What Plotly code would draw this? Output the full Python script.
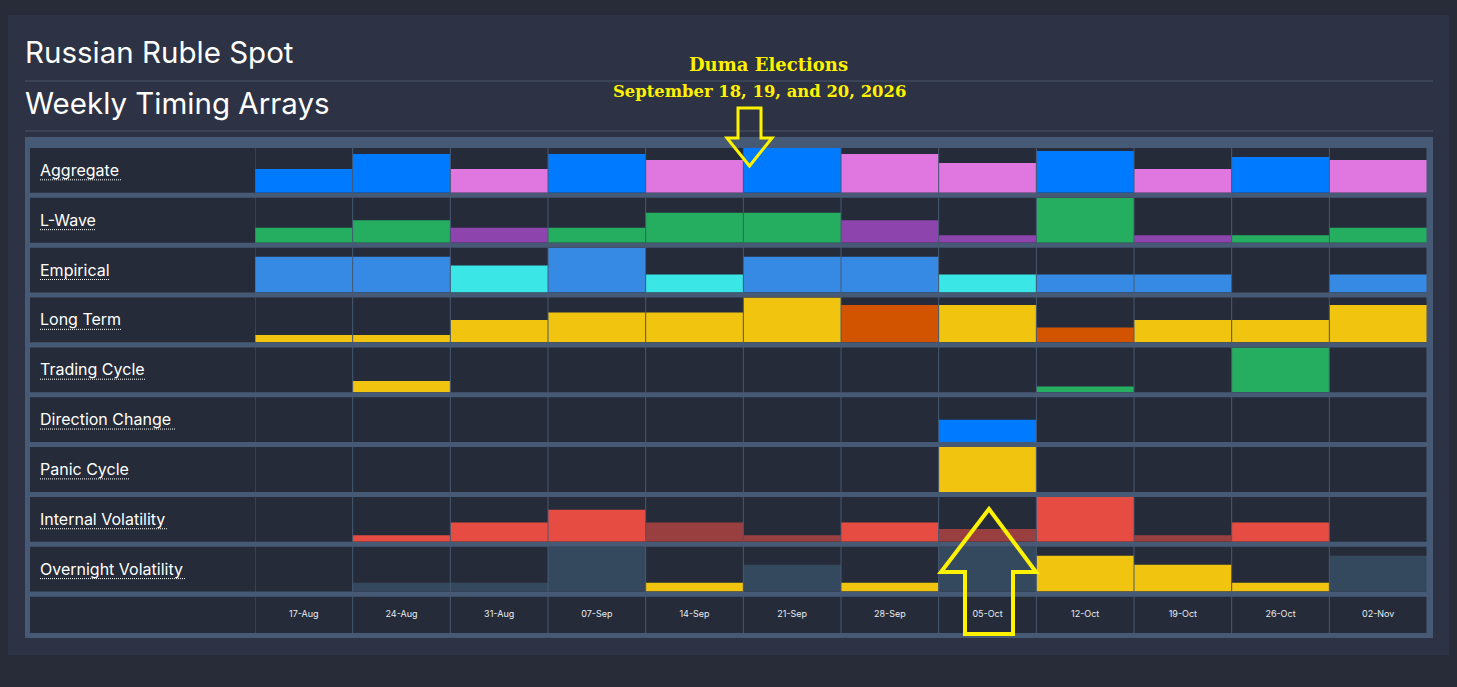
import plotly.graph_objects as go

W, H = 1457, 687

# ---------------- data ----------------
weeks = ["17-Aug", "24-Aug", "31-Aug", "07-Sep", "14-Sep", "21-Sep",
         "28-Sep", "05-Oct", "12-Oct", "19-Oct", "26-Oct", "02-Nov"]

row_names = ["Aggregate", "L-Wave", "Empirical", "Long Term", "Trading Cycle",
             "Direction Change", "Panic Cycle", "Internal Volatility", "Overnight Volatility"]

aggregate_vals = [8, 13, 8, 13, 11, 15, 13, 10, 14, 8, 12, 11]
aggregate_cols = ["blue", "blue", "pink", "blue", "pink", "blue", "pink", "pink", "blue", "pink", "blue", "pink"]

lwave_vals = [2, 3, 2, 2, 4, 4, 3, 1, 6, 1, 1, 2]
lwave_cols = ["green", "green", "purple", "green", "green", "green", "purple", "purple", "green", "purple", "green", "green"]

empirical_vals = [4, 4, 3, 5, 2, 4, 4, 2, 2, 2, 0, 2]
empirical_cols = ["sky", "sky", "cyan", "sky", "cyan", "sky", "sky", "cyan", "sky", "sky", "sky", "sky"]

longterm_vals = [1, 1, 3, 4, 4, 6, 5, 5, 2, 3, 3, 5]
longterm_cols = ["yellow", "yellow", "yellow", "yellow", "yellow", "yellow", "orange", "yellow", "orange", "yellow", "yellow", "yellow"]

trading_vals = [0, 2, 0, 0, 0, 0, 0, 0, 1, 0, 8, 0]
trading_cols = ["yellow", "yellow", "yellow", "yellow", "yellow", "yellow", "yellow", "yellow", "green", "yellow", "green", "yellow"]

direction_vals = [0, 0, 0, 0, 0, 0, 0, 1, 0, 0, 0, 0]
direction_cols = ["blue"] * 12

panic_vals = [0, 0, 0, 0, 0, 0, 0, 1, 0, 0, 0, 0]
panic_cols = ["yellow"] * 12

internal_vals = [0, 1, 3, 5, 3, 1, 3, 2, 7, 1, 3, 0]
internal_cols = ["red", "red", "red", "red", "darkred", "darkred", "red", "darkred", "red", "darkred", "red", "red"]

overnight_vals = [0, 1, 1, 5, 1, 3, 1, 5, 4, 3, 1, 4]
overnight_cols = ["slate", "slate", "slate", "slate", "yellow", "slate", "yellow", "slate", "yellow", "yellow", "yellow", "slate"]

row_scale = [15, 6, 5, 6, 8, 2, 1, 7, 5]

title1 = "Russian Ruble Spot"
title2 = "Weekly Timing Arrays"
note_line1 = "Duma Elections"
note_line2 = "September 18, 19, and 20, 2026"

# ---------------- style ----------------
palette = {
    "blue": "#007bff", "pink": "#e076e0", "green": "#25ae60", "purple": "#8e44ad",
    "sky": "#378ae3", "cyan": "#3ae6e6", "yellow": "#f1c40f", "orange": "#d35400",
    "red": "#e74c43", "darkred": "#9a3f3f", "slate": "#34495e",
}
PAGE = "#272c38"
CARD = "#2d3344"
FRAME = "#475a75"
CELL = "#252b38"
RULE = "#4a5569"
YEL = "#fff200"
FONT = "Inter"

all_vals = [aggregate_vals, lwave_vals, empirical_vals, longterm_vals, trading_vals,
            direction_vals, panic_vals, internal_vals, overnight_vals]
all_cols = [aggregate_cols, lwave_cols, empirical_cols, longterm_cols, trading_cols,
            direction_cols, panic_cols, internal_cols, overnight_cols]

ROW_TOP0 = 148.0
PITCH = 49.85
CELL_H = 44.8
LABEL_BOTTOM = 633.0
X_LEFT, X_DATA, X_RIGHT = 30, 255, 1427


def px(x):
    return x / W


def py(y):
    return 1 - y / H


fig = go.Figure()
layout_axes = {}
shapes = []
annotations = []

# background card and frame
shapes.append(dict(type="rect", xref="paper", yref="paper", x0=px(8), x1=px(1449), y0=py(655), y1=py(15),
                   fillcolor=CARD, line=dict(width=0), layer="below"))
shapes.append(dict(type="rect", xref="paper", yref="paper", x0=px(25), x1=px(1433), y0=py(638), y1=py(137),
                   fillcolor=FRAME, line=dict(width=0), layer="below"))
for yy in (81, 131):
    shapes.append(dict(type="line", xref="paper", yref="paper", x0=px(25), x1=px(1433), y0=py(yy), y1=py(yy),
                       line=dict(color=RULE, width=1), layer="below"))

underline_w = [82, 56, 70, 81, 105, 135, 89, 127, 146]

for i, name in enumerate(row_names):
    top = ROW_TOP0 + i * PITCH
    bot = top + CELL_H
    shapes.append(dict(type="rect", xref="paper", yref="paper", x0=px(X_LEFT), x1=px(X_RIGHT),
                       y0=py(bot), y1=py(top), fillcolor=CELL, line=dict(width=0), layer="below"))
    yname = "y" if i == 0 else f"y{i+1}"
    akey = "yaxis" if i == 0 else f"yaxis{i+1}"
    layout_axes[akey] = dict(domain=[py(bot), py(top)], range=[0, row_scale[i]], anchor="x",
                             visible=False, fixedrange=True)
    fig.add_trace(go.Bar(x=weeks, y=all_vals[i], base=0, width=1,
                         marker=dict(color=[palette[c] for c in all_cols[i]], line=dict(width=0)),
                         xaxis="x", yaxis=yname, showlegend=False, hoverinfo="skip"))
    cy = top + 21.8
    annotations.append(dict(text=name, xref="paper", yref="paper", x=px(38), y=py(cy),
                            xanchor="left", yanchor="middle", showarrow=False,
                            font=dict(family=FONT, size=16, color="#ffffff")))
    shapes.append(dict(type="line", xref="paper", yref="paper", x0=px(40), x1=px(40 + underline_w[i]),
                       y0=py(cy + 10), y1=py(cy + 10), line=dict(color="#ffffff", width=1, dash="1px,1px")))

# label row
lab_top = ROW_TOP0 + 9 * PITCH
shapes.append(dict(type="rect", xref="paper", yref="paper", x0=px(X_LEFT), x1=px(X_RIGHT),
                   y0=py(LABEL_BOTTOM), y1=py(lab_top), fillcolor=CELL, line=dict(width=0), layer="below"))

# column separators
for k in range(len(weeks) + 1):
    shapes.append(dict(type="line", xref="x", yref="paper", x0=k - 0.5, x1=k - 0.5,
                       y0=py(LABEL_BOTTOM), y1=py(ROW_TOP0), line=dict(color=FRAME, width=1), layer="above"))

# titles
annotations.append(dict(text=title1, xref="paper", yref="paper", x=px(23), y=py(52), xanchor="left",
                        yanchor="middle", showarrow=False, font=dict(family=FONT, size=29.5, color="#ffffff")))
annotations.append(dict(text=title2, xref="paper", yref="paper", x=px(23), y=py(103), xanchor="left",
                        yanchor="middle", showarrow=False, font=dict(family=FONT, size=29.5, color="#ffffff")))

# event note
annotations.append(dict(text="<b>" + note_line1 + "</b>", xref="paper", yref="paper", x=px(768), y=py(65),
                        xanchor="center", yanchor="middle", showarrow=False,
                        font=dict(family="DejaVu Serif", size=18, color=YEL)))
annotations.append(dict(text="<b>" + note_line2 + "</b>", xref="paper", yref="paper", x=px(759), y=py(91),
                        xanchor="center", yanchor="middle", showarrow=False,
                        font=dict(family="DejaVu Serif", size=16.4, color=YEL)))


def poly(points):
    return "M " + " L ".join(f"{px(a):.5f},{py(b):.5f}" for a, b in points) + " Z"


down_arrow = [(738, 108), (761, 108), (761, 138), (772, 138), (749.5, 166), (727, 138), (738, 138)]
up_arrow = [(989, 509), (1036, 572), (1013, 572), (1013, 634), (965, 634), (965, 572), (941, 572)]
shapes.append(dict(type="path", xref="paper", yref="paper", path=poly(down_arrow),
                   line=dict(color=YEL, width=3), fillcolor="rgba(0,0,0,0)", layer="above"))
shapes.append(dict(type="path", xref="paper", yref="paper", path=poly(up_arrow),
                   line=dict(color=YEL, width=4), fillcolor="rgba(0,0,0,0)", layer="above"))

fig.update_layout(
    width=W, height=H, autosize=False,
    margin=dict(l=0, r=0, t=0, b=0, pad=0),
    paper_bgcolor=PAGE, plot_bgcolor="rgba(0,0,0,0)",
    barmode="overlay",
    xaxis=dict(domain=[px(X_DATA), px(X_RIGHT)], range=[-0.5, len(weeks) - 0.5], type="category",
               anchor="free", position=py(607), showgrid=False, zeroline=False, showline=False,
               ticks="", tickfont=dict(family=FONT, size=9, color="#e8ebf0"), fixedrange=True),
    shapes=shapes, annotations=annotations,
    **layout_axes,
)

fig.write_html("out.html", config={"displayModeBar": False, "staticPlot": True},
               post_script="document.body.style.margin='0';document.body.style.overflow='hidden';"
                           "document.body.style.background='" + PAGE + "';")
